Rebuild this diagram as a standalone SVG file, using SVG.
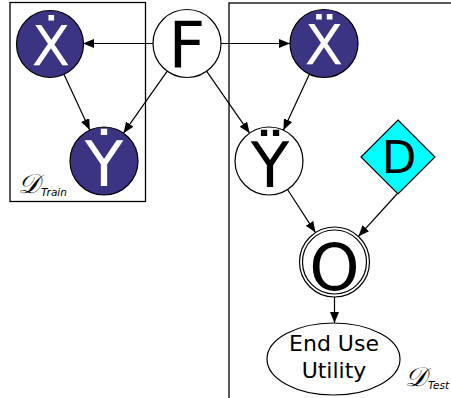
<svg xmlns="http://www.w3.org/2000/svg" width="451" height="398" viewBox="0 0 451 398">
<defs>
<marker id="ah" markerUnits="userSpaceOnUse" markerWidth="12" markerHeight="10" refX="11" refY="4.5" orient="auto">
<path d="M0,0 L11,4.5 L0,9 Z" fill="#000"/>
</marker>
<style>
.plate{fill:none;stroke:#000;stroke-width:1.3}
.obs{fill:#3b3483;stroke:#000;stroke-width:1.2}
.lat{fill:#fff;stroke:#000;stroke-width:1.2}
.dec{fill:#00ffff;stroke:#000;stroke-width:1.2}
.edge{stroke:#000;stroke-width:1.2;fill:none;marker-end:url(#ah)}
.big{font-family:"DejaVu Sans",sans-serif;text-anchor:middle}
.w{fill:#fff}
.k{fill:#000}
.scr{font-family:"DejaVu Serif","Noto Sans",serif;font-style:italic;font-size:27px}
.sub{font-family:"DejaVu Sans",sans-serif;font-style:italic;font-size:10.5px}
</style>
</defs>
<g id="plate-train"><rect class="plate" x="10" y="2.5" width="135.5" height="199"/>
<text x="18" y="193" class="scr">𝒟</text><text x="41" y="196" class="sub">Train</text></g>
<g id="plate-test"><rect class="plate" x="229" y="3" width="240" height="420"/>
<text x="405" y="386" class="scr">𝒟</text><text x="428" y="389" class="sub">Test</text></g>
<g id="connectors">
<line class="edge" x1="153" y1="43.5" x2="83" y2="43.5"/>
<line class="edge" x1="221" y1="43.5" x2="290" y2="43.5"/>
<line class="edge" x1="167.4" y1="70.8" x2="123.5" y2="133.2"/>
<line class="edge" x1="206.4" y1="70.9" x2="249.6" y2="133.1"/>
<line class="edge" x1="63.8" y1="74" x2="89.8" y2="130.1"/>
<line class="edge" x1="309.6" y1="73.8" x2="283.4" y2="130.2"/>
<line class="edge" x1="287.5" y1="189.5" x2="315.5" y2="232.6"/>
<line class="edge" x1="397" y1="194" x2="358.4" y2="236.4"/>
<line class="edge" x1="334.5" y1="297" x2="334.5" y2="323"/>
</g>
<g id="node-Xtrain"><circle class="obs" cx="50" cy="44" r="33.5"/><text x="51" y="65" class="big w" font-size="56">Ẋ</text></g>
<g id="node-Ytrain"><circle class="obs" cx="104" cy="161" r="34"/><text x="104" y="186" class="big w" font-size="63">Ẏ</text></g>
<g id="node-F"><circle class="lat" cx="187" cy="43.5" r="34"/><text x="187" y="67" class="big k" font-size="64">F</text></g>
<g id="node-Xtest"><circle class="obs" cx="324" cy="43.5" r="34"/><text x="324" y="64" class="big w" font-size="56">Ẍ</text></g>
<g id="node-Ytest"><circle class="lat" cx="269" cy="161" r="34"/><text x="270" y="187" class="big k" font-size="63">Ÿ</text></g>
<g id="node-D"><polygon class="dec" points="398,120 435,157 398,194 361,157"/><text x="399" y="173" class="big k" font-size="45">D</text></g>
<g id="node-O"><circle class="lat" cx="334.5" cy="262" r="35"/><circle class="lat" cx="334.5" cy="262" r="32"/><text x="334.5" y="290" class="big k" font-size="64">O</text></g>
<g id="node-U"><ellipse class="lat" cx="333.5" cy="359" rx="66.5" ry="36"/><text x="334" y="351" class="big k" font-size="22">End Use</text><text x="334" y="378" class="big k" font-size="22">Utility</text></g>
</svg>
